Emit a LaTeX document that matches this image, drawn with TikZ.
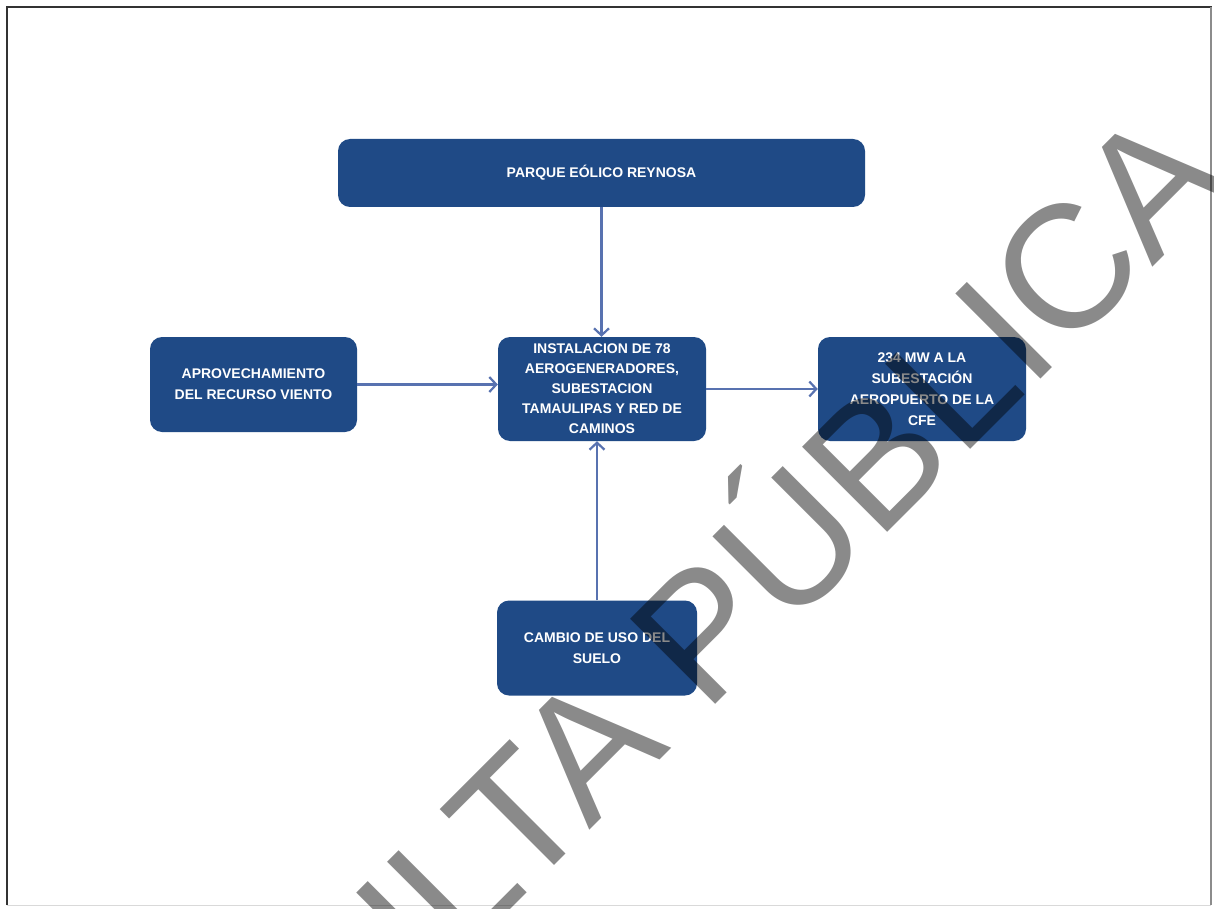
\documentclass[tikz,border=0pt]{standalone}
\usepackage{fontspec}
\setmainfont{Liberation Sans}
\usetikzlibrary{arrows.meta}
\definecolor{boxblue}{HTML}{1F4A86}
\definecolor{arrowblue}{RGB}{88,114,176}
\begin{document}
\begin{tikzpicture}[x=1pt,y=-1pt,
  box/.style={fill=boxblue, rounded corners=12pt, text=white,
    font=\bfseries\fontsize{14}{21}\selectfont, align=center, inner sep=0pt},
  link/.style={draw=arrowblue, line width=2.2pt, -{Straight Barb[length=7pt,width=15pt,line width=2.2pt]}},
  frameline/.style={line width=1.5pt}
  ]
\useasboundingbox (0,0) rectangle (1214,909);
\clip (0,0) rectangle (1214,909);
\fill[white] (0,0) rectangle (1214,909);
% frame
\draw[frameline, black!80] (7,905) -- (7,7) -- (1212,7);
\draw[black!45, line width=2.5pt] (1211,7) -- (1211,905);
\draw[black!15, line width=1pt] (7,905) -- (1211,905);
% boxes
\node[box, minimum width=527pt, minimum height=68pt] (top) at (601.5,173) {PARQUE EÓLICO REYNOSA};
\node[box, minimum width=207pt, minimum height=95pt] (left) at (253.5,384.5) {APROVECHAMIENTO\\DEL RECURSO VIENTO};
\node[box, minimum width=208pt, minimum height=104pt, font=\bfseries\fontsize{14}{20}\selectfont] (center) at (602,389) {INSTALACION DE 78\\AEROGENERADORES,\\SUBESTACION\\TAMAULIPAS Y RED DE\\CAMINOS};
\node[box, minimum width=208pt, minimum height=104pt] (right) at (922,389) {234 MW A LA\\SUBESTACIÓN\\AEROPUERTO DE LA\\CFE};
\node[box, minimum width=200pt, minimum height=95pt] (bottom) at (597,648) {CAMBIO DE USO DEL\\SUELO};
% connectors
\draw[link] (top.south) -- (top.south |- center.north);
\draw[link] (left.east) -- (left.east -| center.west);
\draw[link] (center.east) -- (center.east -| right.west);
\draw[link] (bottom.north) -- (bottom.north |- center.south);
% watermark
\node[anchor=base west, rotate=45, inner sep=0pt, text=black, text opacity=0.46,
  font=\fontsize{175}{175}\selectfont] (wm) at (16,1404) {CONSULTA PÚBLICA};
\end{tikzpicture}
\end{document}
